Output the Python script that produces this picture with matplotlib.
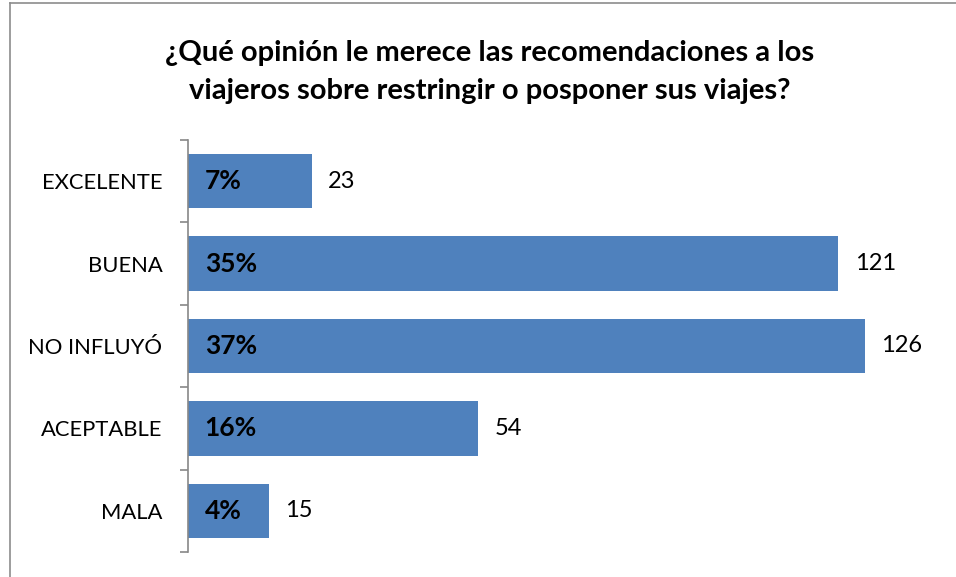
import matplotlib.pyplot as plt
from matplotlib.lines import Line2D

categories = ["EXCELENTE", "BUENA", "NO INFLUYÓ", "ACEPTABLE", "MALA"]
counts = [23, 121, 126, 54, 15]
percent_labels = ["7%", "35%", "37%", "16%", "4%"]

title = "¿Qué opinión le merece las recomendaciones a los\nviajeros sobre restringir o posponer sus viajes?"
bar_color = "#4F81BD"
font = ["Lato", "DejaVu Sans"]

W, H = 956, 577
fig = plt.figure(figsize=(W / 100, H / 100), dpi=100)
# axes: x from 188 to 940 px, y from 140 to 552 px
ax = fig.add_axes([188 / W, 1 - 552 / H, (940 - 188) / W, (552 - 140) / H])

pos = list(range(len(categories)))
ax.barh(pos, counts, height=0.66, color=bar_color, zorder=2)
ax.set_ylim(len(categories) - 0.5, -0.5)
ax.set_xlim(0, 140)

for y, c, p in zip(pos, counts, percent_labels):
    ax.annotate(p, (0, y), xytext=(12, 0), textcoords="offset points",
                ha="left", va="center", fontsize=19, fontweight="bold",
                family=font, color="black")
    ax.annotate(str(c), (c, y), xytext=(12, 0), textcoords="offset points",
                ha="left", va="center", fontsize=17, family=font, color="black")

# category labels
ax.set_yticks(pos)
ax.set_yticklabels(categories, family=font, fontsize=15.8)
ax.tick_params(axis="y", which="major", length=0, pad=18.5)
# tick marks between categories
ax.set_yticks([i - 0.5 for i in range(len(categories) + 1)], minor=True)
ax.tick_params(axis="y", which="minor", length=6, width=1.2, color="#888888", direction="out")

ax.set_xticks([])
for s in ["top", "right", "bottom"]:
    ax.spines[s].set_visible(False)
ax.spines["left"].set_color("#888888")
ax.spines["left"].set_linewidth(1.2)

fig.text(490 / W, 1 - 72 / H, title, ha="center", va="center", fontsize=21,
         fontweight="bold", family=font, linespacing=1.58)

# chart border (left and top edges visible)
fig.add_artist(Line2D([10 / W, 10 / W], [0, 1 - 3 / H], transform=fig.transFigure,
                      color="#8c8c8c", lw=1.2))
fig.add_artist(Line2D([10 / W, 1], [1 - 3 / H, 1 - 3 / H], transform=fig.transFigure,
                      color="#8c8c8c", lw=1.2))

fig.savefig("out.png", dpi=100, facecolor="white")
